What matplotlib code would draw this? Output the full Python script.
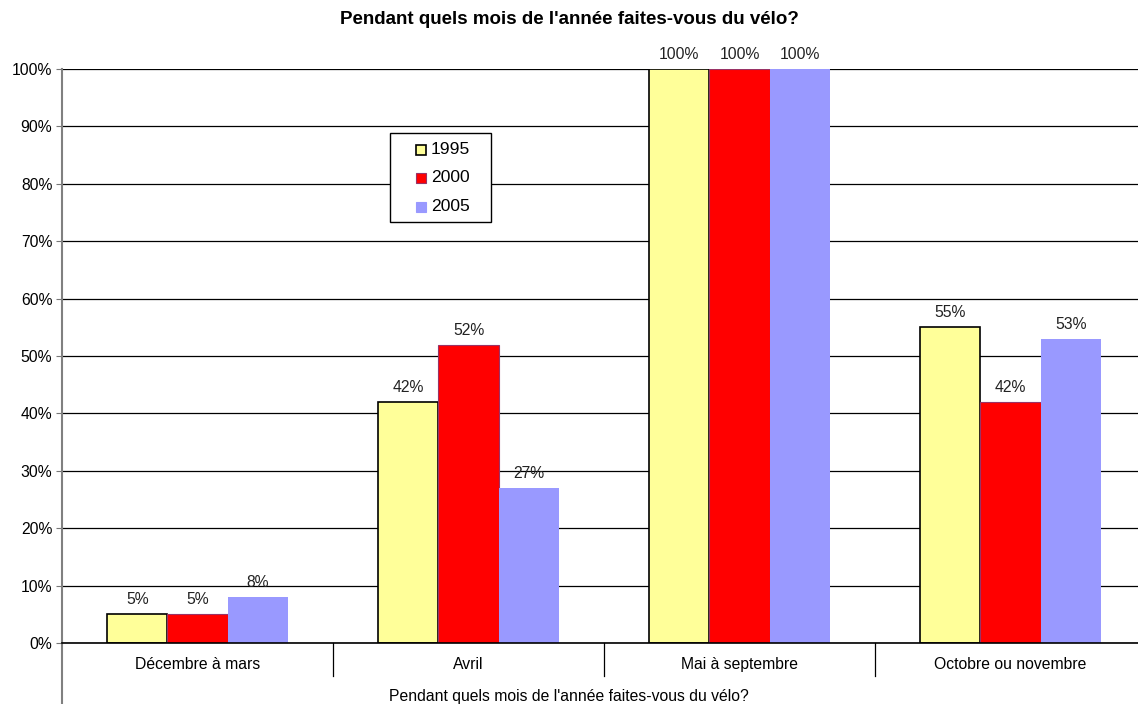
import numpy as np
import matplotlib.pyplot as plt
import matplotlib.transforms as mtransforms
from matplotlib.patches import Rectangle

plt.rcParams['font.family'] = ['Liberation Sans', 'DejaVu Sans']

# données
categories = ["Décembre à mars", "Avril", "Mai à septembre", "Octobre ou novembre"]
years = ["1995", "2000", "2005"]
v1995 = [5, 42, 100, 55]
v2000 = [5, 52, 100, 42]
v2005 = [8, 27, 100, 53]
title = "Pendant quels mois de l'année faites-vous du vélo?"

series = [v1995, v2000, v2005]
faces = ["#FFFF99", "#FF0000", "#9999FF"]
edges = ["#000000", "#993366", "#9999FF"]
lws = [1.2, 0.8, 0.0]
FS = 11.3

W, H = 1138, 704
fig = plt.figure(figsize=(W / 100, H / 100), dpi=100)
ax = fig.add_axes([62 / W, 1 - 643 / H, 1084 / W, 574 / H])

w = 0.222
x = np.arange(len(categories)) + 0.5
for k, vals in enumerate(series):
    pos = x + (k - 1) * w
    ax.bar(pos, vals, width=w, color=faces[k], edgecolor=edges[k], linewidth=lws[k], zorder=3)
    for xp, v in zip(pos, vals):
        ax.text(xp, v + 1.2, f"{v}%", ha="center", va="bottom", fontsize=FS, color="#222222")

ax.set_xlim(0, 4)
ax.set_ylim(0, 100)
ax.set_yticks(np.arange(0, 101, 10))
ax.set_yticklabels([f"{t}%" for t in range(0, 101, 10)], fontsize=FS)
ax.yaxis.grid(True, color="black", linewidth=0.9, zorder=0)
ax.axhline(0, color="black", lw=1.2, clip_on=False, zorder=4)
ax.tick_params(axis="y", length=4, width=0.8, color="#777777", pad=3)
ax.set_xticks([])

for s in ["top", "right", "bottom"]:
    ax.spines[s].set_visible(False)
ax.spines["left"].set_color("#808080")
ax.spines["left"].set_linewidth(1.5)
ax.spines["left"].set_bounds(0, 100)

trans = mtransforms.blended_transform_factory(ax.transData, ax.transAxes)
# axe gauche prolongé vers le bas
ax.plot([0, 0], [0, -0.11], transform=trans, color="#808080", lw=1.5, clip_on=False)
# séparateurs de catégories
for i in range(1, 4):
    ax.plot([i, i], [0, -0.058], transform=trans, color="black", lw=0.9, clip_on=False)
for xc, c in zip(x, categories):
    ax.text(xc, -0.038, c, transform=trans, ha="center", va="center", fontsize=FS)

fig.text(0.5, 1 - 697 / H, title, ha="center", va="center", fontsize=FS)
fig.text(0.5, 1 - 19 / H, title, ha="center", va="center", fontsize=13.5, fontweight="bold")

# légende
fig.add_artist(Rectangle((390 / W, 1 - 222 / H), 101 / W, 89 / H, transform=fig.transFigure,
                         facecolor="white", edgecolor="black", lw=1.0, zorder=5))
for k, (yr, yc) in enumerate(zip(years, [150, 178, 207])):
    fig.add_artist(Rectangle((416 / W, 1 - (yc + 5) / H), 10 / W, 10 / H, transform=fig.transFigure,
                             facecolor=faces[k], edgecolor=edges[k] if k < 2 else faces[k],
                             lw=1.2 if k == 0 else 0.8, zorder=6))
    fig.text(431 / W, 1 - yc / H, yr, ha="left", va="center", fontsize=12.6, zorder=6)

fig.savefig("out.png", dpi=100)
